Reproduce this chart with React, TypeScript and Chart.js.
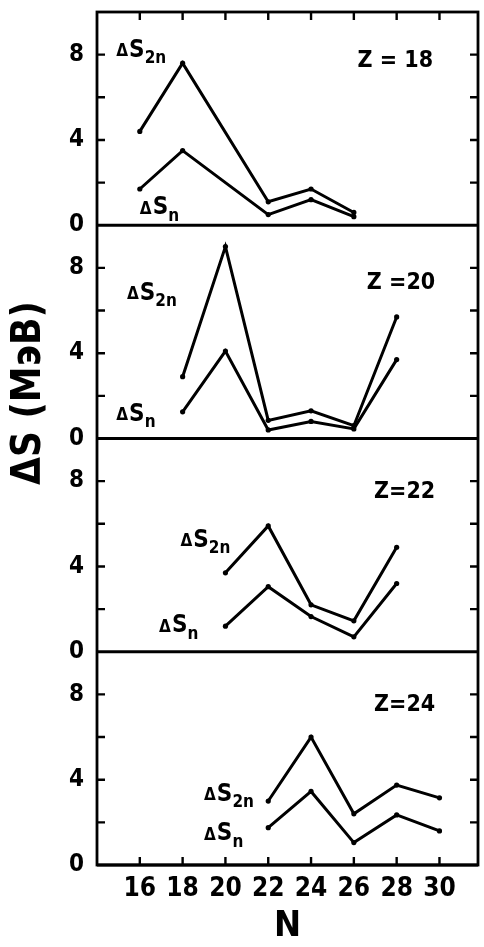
import React, { useEffect, useRef } from "react";
import { Chart, registerables } from "chart.js";

Chart.register(...registerables);

// ---- data ----
const N_TICKS = [16, 18, 20, 22, 24, 26, 28, 30];
const Y_TICKS = [0, 2, 4, 6, 8, 10];
const Y_LABELED = [0, 4, 8];
const Z_LABELS = ["Z = 18", "Z =20", "Z=22", "Z=24"];
const Y_TITLE = "ΔS (МэВ)";
const X_TITLE = "N";

const N_Z18 = [16, 18, 22, 24, 26];
const S2N_Z18 = [4.4, 7.6, 1.1, 1.7, 0.6];
const SN_Z18 = [1.7, 3.5, 0.5, 1.2, 0.4];

const N_Z20 = [18, 20, 22, 24, 26, 28];
const S2N_Z20 = [2.9, 9.0, 0.85, 1.3, 0.6, 5.7];
const SN_Z20 = [1.25, 4.1, 0.4, 0.8, 0.45, 3.7];

const N_Z22 = [20, 22, 24, 26, 28];
const S2N_Z22 = [3.7, 5.9, 2.2, 1.45, 4.9];
const SN_Z22 = [1.2, 3.05, 1.65, 0.7, 3.2];

const N_Z24 = [22, 24, 26, 28, 30];
const S2N_Z24 = [3.0, 6.0, 2.4, 3.75, 3.15];
const SN_Z24 = [1.75, 3.45, 1.05, 2.35, 1.6];

// label anchors: [N (left edge), value (vertical centre)]
const S2N_LABEL_POS = [[14.9, 8.2], [15.4, 6.8], [17.9, 5.2], [19.0, 3.3]];
const SN_LABEL_POS = [[16.0, 0.8], [14.9, 1.1], [16.9, 1.2], [19.0, 1.45]];
const Z_LABEL_POS = [[29.7, 7.7], [29.8, 7.3], [29.8, 7.5], [29.8, 7.5]];

const FONT = '"DejaVu Sans Condensed", "DejaVu Sans", sans-serif';

const PANELS = [
  { id: "y1", n: N_Z18, s2n: S2N_Z18, sn: SN_Z18 },
  { id: "y2", n: N_Z20, s2n: S2N_Z20, sn: SN_Z20 },
  { id: "y3", n: N_Z22, s2n: S2N_Z22, sn: SN_Z22 },
  { id: "y4", n: N_Z24, s2n: S2N_Z24, sn: SN_Z24 },
];

const pts = (xs: number[], ys: number[]) => xs.map((x, i) => ({ x, y: ys[i] }));

const decorPlugin = {
  id: "decor",
  afterDraw(chart: any) {
    const { ctx, chartArea } = chart;
    const { left, right, top, bottom } = chartArea;
    const xs = chart.scales.x;
    ctx.save();
    ctx.strokeStyle = "#000";
    ctx.fillStyle = "#000";
    ctx.lineWidth = 2.8;
    ctx.lineCap = "butt";
    // frame
    ctx.strokeRect(left, top, right - left, bottom - top);
    const tl = 8;
    PANELS.forEach((p, i) => {
      const ys = chart.scales[p.id];
      const y0 = ys.getPixelForValue(0);
      ctx.lineWidth = 2.8;
      ctx.beginPath();
      ctx.moveTo(left, y0);
      ctx.lineTo(right, y0);
      ctx.stroke();
      ctx.lineWidth = 2.4;
      Y_TICKS.forEach((v) => {
        if (v === 0 || v === 10) return;
        const py = ys.getPixelForValue(v);
        ctx.beginPath();
        ctx.moveTo(left, py);
        ctx.lineTo(left + tl, py);
        ctx.moveTo(right, py);
        ctx.lineTo(right - tl, py);
        ctx.stroke();
      });
      // Z label
      ctx.font = `bold 23px ${FONT}`;
      ctx.textAlign = "right";
      ctx.textBaseline = "middle";
      ctx.fillText(Z_LABELS[i], xs.getPixelForValue(Z_LABEL_POS[i][0]), ys.getPixelForValue(Z_LABEL_POS[i][1]));
      // ΔS labels
      const drawLbl = (pos: number[], sub: string) => {
        const x = xs.getPixelForValue(pos[0]);
        const y = ys.getPixelForValue(pos[1]);
        ctx.textAlign = "left";
        ctx.textBaseline = "middle";
        ctx.font = `bold 17px ${FONT}`;
        ctx.fillText("Δ", x, y + 1);
        const wd = ctx.measureText("Δ").width + 1;
        ctx.font = `bold 24px ${FONT}`;
        ctx.fillText("S", x + wd, y);
        const w = wd + ctx.measureText("S").width;
        ctx.font = `bold 17px ${FONT}`;
        ctx.fillText(sub, x + w, y + 8);
      };
      drawLbl(S2N_LABEL_POS[i], "2n");
      drawLbl(SN_LABEL_POS[i], "n");
    });
    // x inward ticks top and bottom
    ctx.lineWidth = 2.4;
    N_TICKS.forEach((v) => {
      const px = xs.getPixelForValue(v);
      ctx.beginPath();
      ctx.moveTo(px, top);
      ctx.lineTo(px, top + tl);
      ctx.moveTo(px, bottom);
      ctx.lineTo(px, bottom - tl);
      ctx.stroke();
    });
    // y title
    ctx.save();
    ctx.translate(30, 393);
    ctx.rotate(-Math.PI / 2);
    ctx.font = `bold 40px ${FONT}`;
    ctx.textAlign = "center";
    ctx.textBaseline = "middle";
    ctx.fillText(Y_TITLE, 0, 0);
    ctx.restore();
    ctx.restore();
  },
};

export default function App() {
  const ref = useRef<HTMLCanvasElement | null>(null);
  useEffect(() => {
    if (!ref.current) return;
    const datasets: any[] = [];
    PANELS.forEach((p) => {
      [p.s2n, p.sn].forEach((vals) => {
        datasets.push({
          data: pts(p.n, vals),
          yAxisID: p.id,
          borderColor: "#000",
          backgroundColor: "#000",
          borderWidth: 3,
          pointRadius: 2.6,
          pointBackgroundColor: "#000",
          pointBorderWidth: 0,
          tension: 0,
          fill: false,
        });
      });
    });
    const yScale = (stackW: number) => ({
      type: "linear",
      position: "left",
      stack: "panels",
      stackWeight: stackW,
      min: 0,
      max: 10,
      afterBuildTicks: (s: any) => {
        s.ticks = Y_TICKS.map((v) => ({ value: v }));
      },
      afterFit: (s: any) => {
        s.width = 97;
        s.paddingTop = 0;
        s.paddingBottom = 0;
      },
      grid: { display: false, drawTicks: false },
      border: { display: false },
      ticks: {
        color: "#000",
        padding: 13,
        font: { family: FONT, size: 24, weight: "bold", lineHeight: 1 },
        callback: (v: any) => (Y_LABELED.includes(v) ? String(v) : ""),
      },
    });
    const chart = new Chart(ref.current, {
      type: "line",
      data: { datasets },
      plugins: [decorPlugin],
      options: {
        animation: false,
        responsive: false,
        events: [],
        layout: { padding: { left: 0, right: 6, top: 12, bottom: 0 } },
        plugins: { legend: { display: false }, tooltip: { enabled: false } },
        scales: {
          x: {
            type: "linear",
            min: 14,
            max: 31.8,
            afterBuildTicks: (s: any) => {
              s.ticks = N_TICKS.map((v) => ({ value: v }));
            },
            afterFit: (s: any) => {
              s.height = 82;
              s.paddingLeft = 0;
              s.paddingRight = 0;
            },
            grid: { display: false, drawTicks: false },
            border: { display: false },
            ticks: {
              color: "#000",
              padding: 11,
              maxRotation: 0,
              font: { family: FONT, size: 26, weight: "bold", lineHeight: 1 },
              callback: (v: any) => String(v),
            },
            title: {
              display: true,
              text: X_TITLE,
              color: "#000",
              font: { family: FONT, size: 36, weight: "bold", lineHeight: 1 },
              padding: { top: 0, bottom: 2 },
            },
          },
          y4: yScale(1),
          y3: yScale(1),
          y2: yScale(1),
          y1: yScale(1),
        } as any,
      },
    } as any);
    return () => chart.destroy();
  }, []);
  return (
    <div style={{ position: "fixed", left: 0, top: 0, width: 484, height: 947, background: "#fff" }}>
      <canvas ref={ref} width={484} height={947} style={{ width: 484, height: 947, display: "block" }} />
    </div>
  );
}
